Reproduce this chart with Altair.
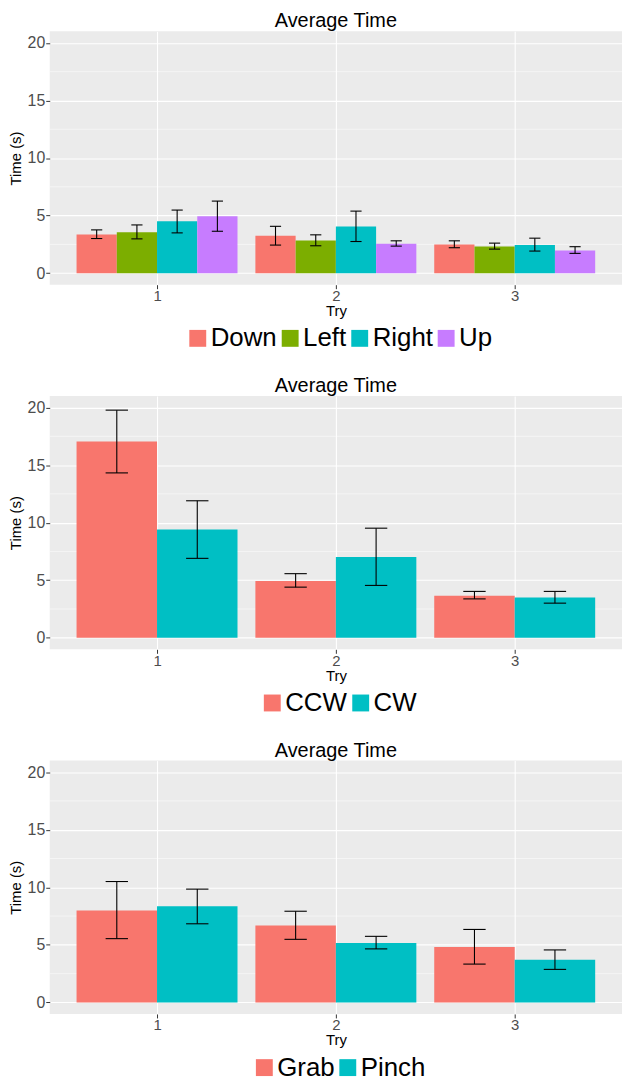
import altair as alt
import pandas as pd

tries = [1, 2, 3]
tick_values = [0, 5, 10, 15, 20]
minor_breaks = [2.5, 7.5, 12.5, 17.5]

# Panel 1: direction
p1_groups = ["Down", "Left", "Right", "Up"]
p1_colors = ["#F8766D", "#7CAE00", "#00BFC4", "#C77CFF"]
p1_mean = [[3.36, 3.24, 2.50], [3.56, 2.84, 2.32], [4.50, 4.05, 2.44], [4.94, 2.55, 1.98]]
p1_lo = [[3.01, 2.44, 2.21], [2.98, 2.38, 2.09], [3.50, 2.75, 1.92], [3.64, 2.35, 1.72]]
p1_hi = [[3.76, 4.07, 2.81], [4.19, 3.33, 2.61], [5.48, 5.39, 3.04], [6.26, 2.81, 2.30]]

# Panel 2: rotation
p2_groups = ["CCW", "CW"]
p2_colors = ["#F8766D", "#00BFC4"]
p2_mean = [[17.05, 4.94, 3.66], [9.40, 7.02, 3.49]]
p2_lo = [[14.32, 4.40, 3.38], [6.90, 4.55, 3.01]]
p2_hi = [[19.77, 5.57, 4.03], [11.90, 9.52, 4.03]]

# Panel 3: gesture
p3_groups = ["Grab", "Pinch"]
p3_colors = ["#F8766D", "#00BFC4"]
p3_mean = [[7.98, 6.69, 4.82], [8.35, 5.17, 3.70]]
p3_lo = [[5.54, 5.48, 3.33], [6.83, 4.65, 2.87]]
p3_hi = [[10.50, 7.92, 6.34], [9.84, 5.74, 4.56]]

FONT = "Liberation Sans"
W, H = 576, 255


def make_panel(groups, colors, mean, lo, hi, legend_x):
    rows = []
    n = len(groups)
    for gi, g in enumerate(groups):
        for ti, t in enumerate(tries):
            rows.append({"trial": t, "group": g, "idx": gi, "n": n,
                         "mean": mean[gi][ti], "lo": lo[gi][ti], "hi": hi[gi][ti]})
    df = pd.DataFrame(rows)

    xscale = alt.Scale(domain=[0.4, 3.6], nice=False, zero=False)
    yscale = alt.Scale(domain=[-1, 21], nice=False, zero=False)
    xaxis = alt.Axis(values=tries, format="d", title="Try", grid=True,
                     gridColor="white", gridWidth=1.1, domain=False,
                     tickColor="#333333", tickSize=4, labelColor="#4D4D4D",
                     labelFontSize=15, labelPadding=0, titleFontSize=15,
                     titleFontWeight="normal", titleColor="black", titlePadding=0,
                     labelFont=FONT, titleFont=FONT)
    yaxis = alt.Axis(values=tick_values, title="Time (s)", grid=True,
                     gridColor="white", gridWidth=1.1, domain=False,
                     tickColor="#333333", tickSize=4, labelColor="#4D4D4D",
                     labelFontSize=16, labelPadding=1, titleFontSize=15,
                     titleFontWeight="normal", titleColor="black", titlePadding=4,
                     labelFont=FONT, titleFont=FONT)

    base = alt.Chart(df).transform_calculate(
        xc="datum.trial + (datum.idx - (datum.n - 1) / 2) * 0.9 / datum.n",
    ).transform_calculate(
        x0="datum.xc - 0.45 / datum.n",
        x1="datum.xc + 0.45 / datum.n",
        c0="datum.xc - 0.125 / datum.n",
        c1="datum.xc + 0.125 / datum.n",
    )

    minor = alt.Chart(pd.DataFrame({"v": minor_breaks})).mark_rule(
        color="white", strokeWidth=0.5
    ).encode(y=alt.Y("v:Q", scale=yscale, axis=yaxis))

    bars = base.mark_bar(opacity=1).encode(
        x=alt.X("x0:Q", scale=xscale, axis=xaxis),
        x2="x1:Q",
        y=alt.Y("mean:Q", scale=yscale, axis=yaxis),
        y2=alt.datum(0),
        color=alt.Color("group:N", scale=alt.Scale(domain=groups, range=colors),
                        legend=alt.Legend(title=None, orient="none",
                                          legendX=legend_x, legendY=H + 41,
                                          direction="horizontal",
                                          symbolType="square", symbolSize=289,
                                          symbolStrokeWidth=0, labelFontSize=26,
                                          labelColor="black", labelFont=FONT,
                                          columnPadding=0, labelOffset=0)),
    )

    err = base.mark_rule(color="black", strokeWidth=1.1).encode(
        x=alt.X("xc:Q", scale=xscale, axis=xaxis),
        y=alt.Y("lo:Q", scale=yscale, axis=yaxis),
        y2="hi:Q",
    )
    cap_hi = base.mark_rule(color="black", strokeWidth=1.1).encode(
        x=alt.X("c0:Q", scale=xscale, axis=xaxis), x2="c1:Q",
        y=alt.Y("hi:Q", scale=yscale, axis=yaxis),
    )
    cap_lo = base.mark_rule(color="black", strokeWidth=1.1).encode(
        x=alt.X("c0:Q", scale=xscale, axis=xaxis), x2="c1:Q",
        y=alt.Y("lo:Q", scale=yscale, axis=yaxis),
    )

    return alt.layer(minor, bars, err, cap_hi, cap_lo).properties(
        width=W, height=H,
        title=alt.TitleParams("Average Time", fontSize=20, font=FONT,
                              fontWeight="normal", color="black", offset=0,
                              anchor="middle"),
    )


chart = alt.vconcat(
    make_panel(p1_groups, p1_colors, p1_mean, p1_lo, p1_hi, 136),
    make_panel(p2_groups, p2_colors, p2_mean, p2_lo, p2_hi, 211),
    make_panel(p3_groups, p3_colors, p3_mean, p3_lo, p3_hi, 203),
    spacing=25,
).resolve_scale(color="independent").configure(
    padding=0, background="white"
).configure_view(fill="#EBEBEB", stroke=None)

chart.save("out.html", embed_options={"renderer": "svg", "actions": False})
